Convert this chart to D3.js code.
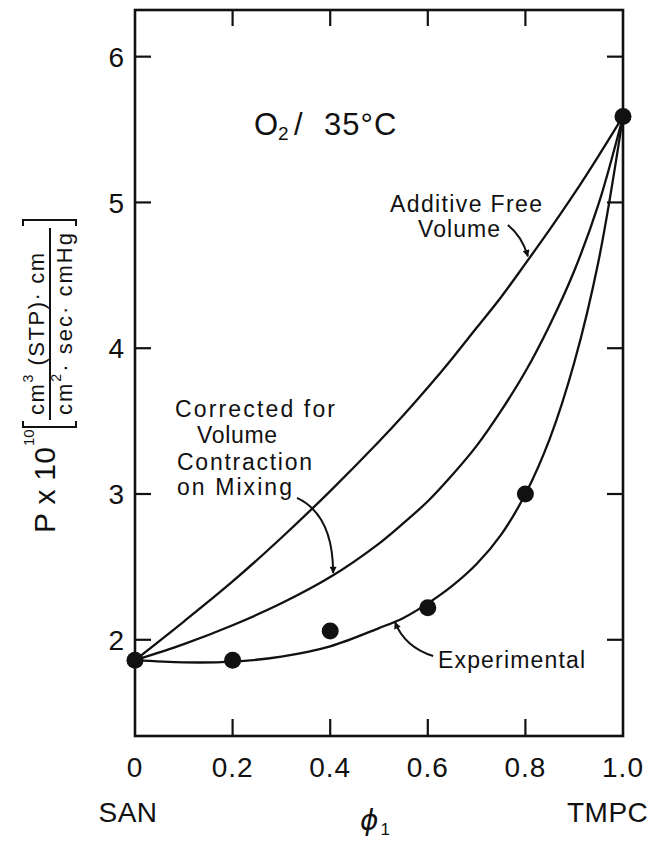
<!DOCTYPE html>
<html>
<head>
<meta charset="utf-8">
<script src="https://cdn.jsdelivr.net/npm/d3@7"></script>
<style>
  body { margin: 0; background: #fff; }
  svg { display: block; }
  text { font-family: "Liberation Sans", Arial, sans-serif; fill: #111; }
</style>
</head>
<body>
<svg id="chart" width="649" height="843"></svg>
<script>
// Volume fraction of TMPC in the SAN/TMPC blend
const phiGrid       = [0, 0.1, 0.2, 0.3, 0.4, 0.5, 0.55, 0.6, 0.65, 0.7, 0.75, 0.8, 0.85, 0.9, 0.95, 1.0];
// O2 permeability (x 1e10) predicted from additive free volume
const additiveP     = [1.86, 2.125, 2.40, 2.70, 3.02, 3.36, 3.54, 3.73, 3.93, 4.14, 4.35, 4.58, 4.815, 5.06, 5.32, 5.59];
// Prediction corrected for volume contraction on mixing
const correctedP    = [1.86, 1.97, 2.10, 2.25, 2.43, 2.66, 2.80, 2.95, 3.13, 3.33, 3.57, 3.84, 4.16, 4.53, 4.99, 5.59];
// Smooth curve through the measured values
const experimentalP = [1.86, 1.845, 1.85, 1.885, 1.955, 2.08, 2.15, 2.25, 2.37, 2.52, 2.72, 3.00, 3.38, 3.90, 4.60, 5.59];
// Measured permeabilities
const measuredPhi   = [0, 0.2, 0.4, 0.6, 0.8, 1.0];
const measuredP     = [1.86, 1.86, 2.06, 2.22, 3.00, 5.59];
// Axis ticks
const xTicks        = [0, 0.2, 0.4, 0.6, 0.8, 1.0];
const xTickLabels   = ["0", "0.2", "0.4", "0.6", "0.8", "1.0"];
const xInnerTicks   = [0.2, 0.4, 0.6, 0.8];
const yTicks        = [2, 3, 4, 5, 6];

const svg = d3.select("#chart");
const ink = "#111";

const x = d3.scaleLinear().domain([0, 1]).range([135, 623]);
const y = d3.scaleLinear().domain([1.34, 6.32]).range([736, 10]);

// arrowhead marker for the callouts
svg.append("defs").append("marker")
  .attr("id", "head")
  .attr("viewBox", "0 0 10 10")
  .attr("refX", 9).attr("refY", 5)
  .attr("markerWidth", 9).attr("markerHeight", 7)
  .attr("markerUnits", "userSpaceOnUse")
  .attr("orient", "auto")
  .append("path").attr("d", "M0,0 L10,5 L0,10 Z").attr("fill", ink);

// frame
svg.append("rect")
  .attr("x", x(0)).attr("y", y(6.32))
  .attr("width", x(1) - x(0)).attr("height", y(1.34) - y(6.32))
  .attr("fill", "none").attr("stroke", ink).attr("stroke-width", 2.6);

// inward ticks on all four sides
const tickLen = 16;
const tg = svg.append("g").attr("stroke", ink).attr("stroke-width", 2.2);
yTicks.forEach(v => {
  tg.append("line").attr("x1", x(0)).attr("x2", x(0) + tickLen).attr("y1", y(v)).attr("y2", y(v));
  tg.append("line").attr("x1", x(1)).attr("x2", x(1) - tickLen).attr("y1", y(v)).attr("y2", y(v));
});
xInnerTicks.forEach(v => {
  tg.append("line").attr("x1", x(v)).attr("x2", x(v)).attr("y1", y(1.34)).attr("y2", y(1.34) - tickLen - 1);
  tg.append("line").attr("x1", x(v)).attr("x2", x(v)).attr("y1", y(6.32)).attr("y2", y(6.32) + tickLen);
});

// tick labels
svg.append("g").selectAll("text").data(yTicks).join("text")
  .attr("x", x(0) - 11).attr("y", d => y(d)).attr("dy", "0.36em")
  .attr("text-anchor", "end").attr("font-size", 28)
  .text(d => d);
svg.append("g").selectAll("text").data(xTicks).join("text")
  .attr("x", d => x(d)).attr("y", 777)
  .attr("text-anchor", "middle").attr("font-size", 28)
  .attr("letter-spacing", 1)
  .text((d, i) => xTickLabels[i]);

// blend end members and the axis symbol
svg.append("text").attr("x", 128).attr("y", 822).attr("text-anchor", "middle")
  .attr("font-size", 28).attr("letter-spacing", 0.5).text("SAN");
svg.append("text").attr("x", 567).attr("y", 822)
  .attr("font-size", 28).attr("letter-spacing", 0.5).text("TMPC");
const phiLab = svg.append("text").attr("x", 360).attr("y", 830).attr("font-size", 28);
phiLab.append("tspan").attr("font-family", "DejaVu Sans").attr("font-style", "oblique").text("\u03d5");
phiLab.append("tspan").attr("font-size", 17).attr("dy", 5).attr("dx", 2).text("1");

// curves
const line = d3.line().x(d => x(d[0])).y(d => y(d[1])).curve(d3.curveCatmullRom.alpha(0.5));
[additiveP, correctedP, experimentalP].forEach(series => {
  svg.append("path")
    .datum(phiGrid.map((p, i) => [p, series[i]]))
    .attr("d", line)
    .attr("fill", "none").attr("stroke", ink).attr("stroke-width", 2.3);
});

// measured points
svg.append("g").selectAll("circle").data(measuredPhi).join("circle")
  .attr("cx", d => x(d)).attr("cy", (d, i) => y(measuredP[i]))
  .attr("r", 8.5).attr("fill", ink);

// title inside the plot
const title = svg.append("text").attr("y", 135).attr("font-size", 31);
title.append("tspan").attr("x", 254).text("O");
title.append("tspan").attr("x", 278).attr("dy", 5).attr("font-size", 19).text("2");
title.append("tspan").attr("x", 294).attr("dy", -5).text("/");
title.append("tspan").attr("x", 324).attr("letter-spacing", 1).text("35\u00b0C");

// callout labels
function label(lines, size) {
  lines.forEach(l => {
    svg.append("text").attr("x", l[0]).attr("y", l[1]).attr("font-size", size)
      .attr("textLength", l[3]).attr("lengthAdjust", "spacing")
      .text(l[2]);
  });
}
label([[390, 212, "Additive Free", 152], [418, 237, "Volume", 82]], 23);
label([[175, 417, "Corrected for", 160], [197, 443, "Volume", 80],
       [177, 470, "Contraction", 135], [177, 495, "on Mixing", 115]], 23);
label([[438, 668, "Experimental", 147]], 23);

// callout arrows, given in data units: start, control, end
const arrows = [
  [[0.764, 4.845], [0.793, 4.77], [0.805, 4.63]],
  [[0.332, 2.973], [0.406, 2.856], [0.406, 2.458]],
  [[0.611, 1.889], [0.553, 1.95], [0.533, 2.12]]
];
arrows.forEach(a => {
  const p = d3.path();
  p.moveTo(x(a[0][0]), y(a[0][1]));
  p.quadraticCurveTo(x(a[1][0]), y(a[1][1]), x(a[2][0]), y(a[2][1]));
  svg.append("path").attr("d", p.toString())
    .attr("fill", "none").attr("stroke", ink).attr("stroke-width", 2)
    .attr("marker-end", "url(#head)");
});

// rotated y-axis title: P x 10^10 [cm3(STP).cm / cm2.sec.cmHg]
const yl = svg.append("g").attr("transform", "rotate(-90)");
yl.append("text").attr("x", -533).attr("y", 55).attr("font-size", 30)
  .attr("textLength", 86).attr("lengthAdjust", "spacing").text("P x 10");
yl.append("text").attr("x", -446).attr("y", 34).attr("font-size", 15).text("10");

yl.append("text").attr("x", -415).attr("y", 44).attr("font-size", 22)
  .attr("textLength", 162).attr("lengthAdjust", "spacing")
  .call(t => {
    t.append("tspan").text("cm");
    t.append("tspan").attr("font-size", 14).attr("dy", -11).text("3");
    t.append("tspan").attr("dy", 11).text(" (STP)\u00b7 cm");
  });
yl.append("text").attr("x", -415).attr("y", 72).attr("font-size", 22)
  .attr("textLength", 182).attr("lengthAdjust", "spacing")
  .call(t => {
    t.append("tspan").text("cm");
    t.append("tspan").attr("font-size", 14).attr("dy", -11).text("2");
    t.append("tspan").attr("dy", 11).text("\u00b7 sec\u00b7 cmHg");
  });
// fraction bar and brackets
yl.append("line").attr("x1", -420).attr("x2", -228).attr("y1", 50).attr("y2", 50)
  .attr("stroke", ink).attr("stroke-width", 2);
yl.append("path").attr("d", "M-421,23 L-427,23 L-427,76 L-421,76")
  .attr("fill", "none").attr("stroke", ink).attr("stroke-width", 2);
yl.append("path").attr("d", "M-226,23 L-220,23 L-220,76 L-226,76")
  .attr("fill", "none").attr("stroke", ink).attr("stroke-width", 2);
</script>
</body>
</html>
